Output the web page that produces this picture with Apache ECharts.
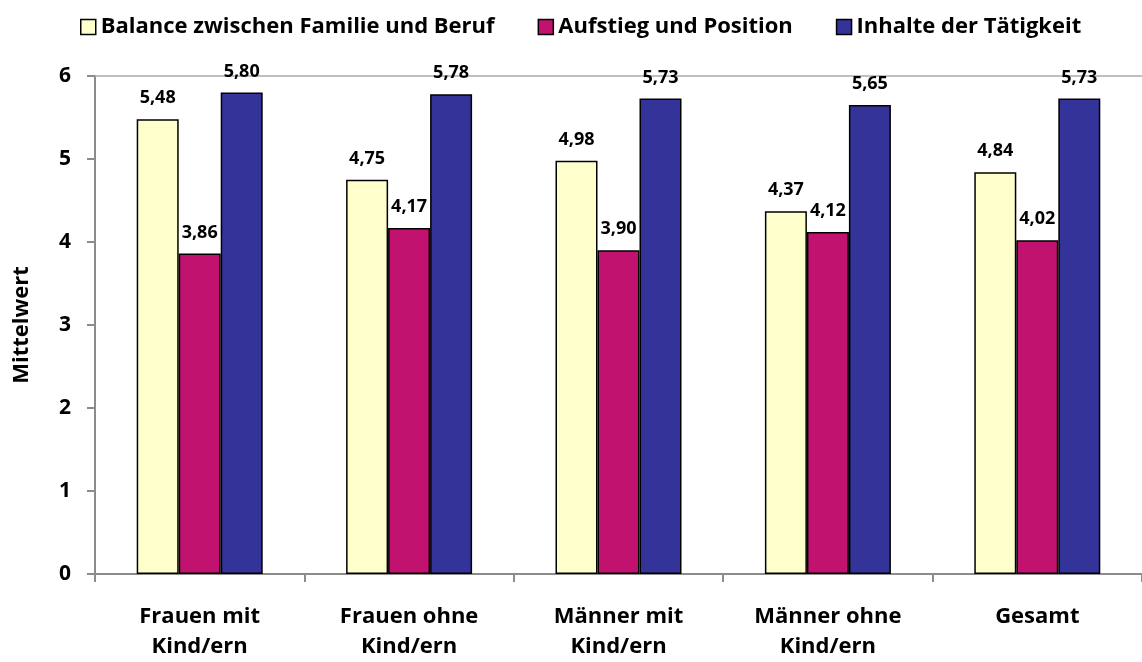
<html lang="de">
<head>
	<meta charset="UTF-8">
	<script src="https://cdn.jsdelivr.net/npm/echarts@6/dist/echarts.min.js"></script>
	<title>Mittelwert</title>
</head>
<body style="margin:0">
<div id="pic" style="width:1142px;height:662px"></div>
<script>
	"use strict";

	const kat=["Frauen mit\nKind/ern","Frauen ohne\nKind/ern","Männer mit\nKind/ern","Männer ohne\nKind/ern","Gesamt"];
	const balance=[5.48,4.75,4.98,4.37,4.84];
	const aufstieg=[3.86,4.17,3.90,4.12,4.02];
	const inhalte=[5.80,5.78,5.73,5.65,5.73];
	const namen=["Balance zwischen Familie und Beruf","Aufstieg und Position","Inhalte der Tätigkeit"];
	const farben=["#FFFFCC","#C2126F","#333399"];

	const schrift="Open Sans";
	const grau="#8c8c8c";

	function reihe(i,d)
	{
		return {
			name:namen[i],
			type:"bar",
			data:d,
			barWidth:42,
			barGap:"0%",
			itemStyle:{color:farben[i],borderColor:"#000",borderWidth:1.5},
			label:{
				show:true,position:"top",distance:12,
				fontFamily:schrift,fontWeight:"bold",fontSize:18,color:"#000",
				formatter:p=>p.value.toFixed(2).replace(".",",")
			}
		};
	}

	let pic=echarts.init(document.getElementById("pic"));
	pic.setOption({
		animation:false,
		textStyle:{fontFamily:schrift},
		legend:{
			top:11,left:75,
			itemWidth:15,itemHeight:15,itemGap:43,
			icon:"rect",
			itemStyle:{borderColor:"#000",borderWidth:1.5},
			textStyle:{fontFamily:schrift,fontWeight:"bold",fontSize:22,color:"#000"}
		},
		grid:{left:95,top:76,width:1050,height:500},
		xAxis:[
			{
				type:"category",
				data:kat,
				axisLine:{lineStyle:{color:grau,width:2}},
				axisTick:{show:true,length:8,lineStyle:{color:grau,width:2}},
				axisLabel:{fontFamily:schrift,fontWeight:"bold",fontSize:22,color:"#000",lineHeight:30,margin:28}
			},
			{
				type:"category",
				position:"top",
				data:kat,
				axisLine:{lineStyle:{color:"#aaa",width:1.5}},
				axisTick:{show:false},
				axisLabel:{show:false}
			}
		],
		yAxis:{
			type:"value",
			min:0,max:6,interval:1,
			name:"Mittelwert",
			nameLocation:"middle",
			nameGap:62,
			nameTextStyle:{fontFamily:schrift,fontWeight:"bold",fontSize:22,color:"#000"},
			axisLine:{show:true,lineStyle:{color:grau,width:2}},
			axisTick:{show:true,length:8,lineStyle:{color:grau,width:2}},
			axisLabel:{fontFamily:schrift,fontWeight:"bold",fontSize:21,color:"#000",margin:24},
			splitLine:{show:false}
		},
		series:[reihe(0,balance),reihe(1,aufstieg),reihe(2,inhalte)]
	});
</script>
</body>
</html>
